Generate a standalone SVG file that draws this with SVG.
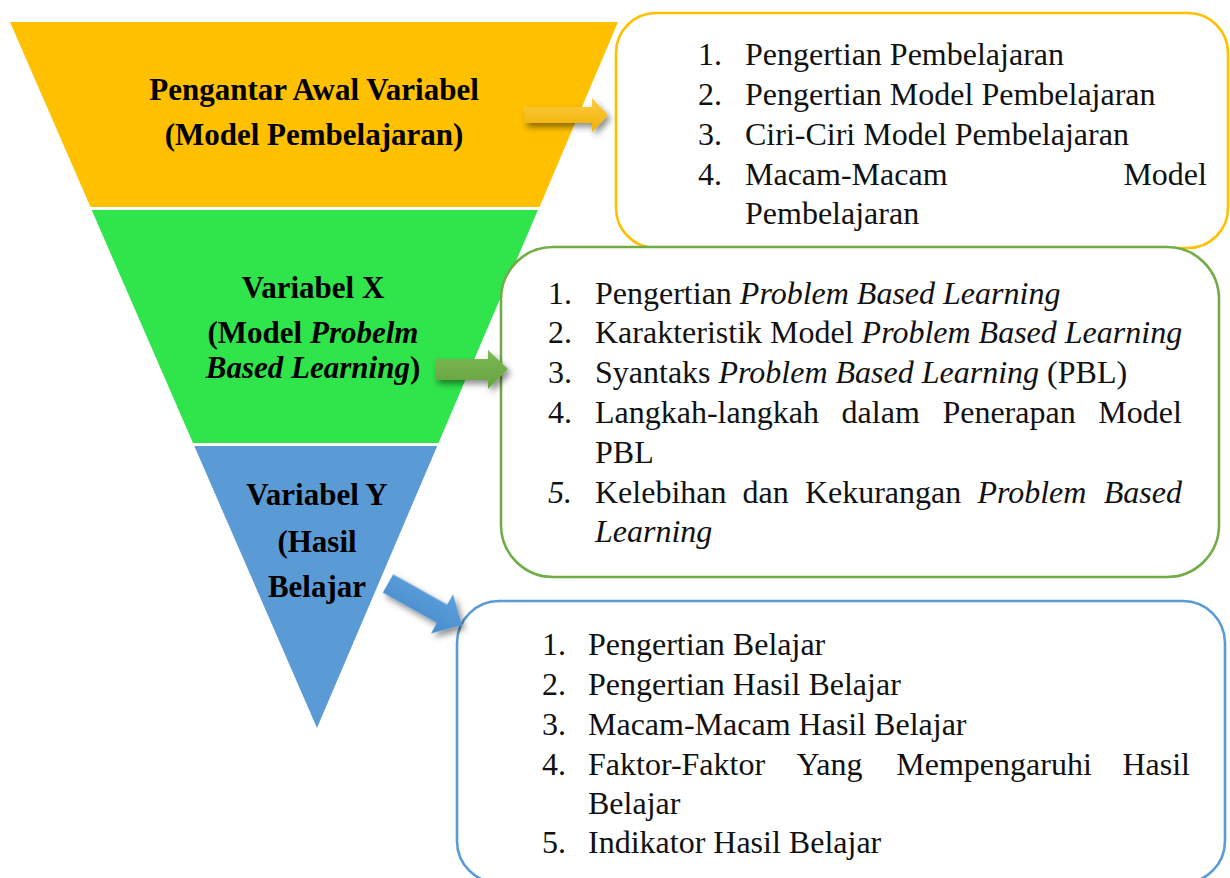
<svg xmlns="http://www.w3.org/2000/svg" width="1230" height="878" viewBox="0 0 1230 878">
<style>
.lbl{font-family:"Liberation Serif","Times New Roman",serif;font-weight:bold;font-size:31px;fill:#000;text-anchor:middle}
.li{font-family:"Liberation Serif","Times New Roman",serif;font-size:32px;fill:#111}
.it{font-style:italic}
.box{fill:#fff;stroke-width:2.6}
</style>
<defs>
<filter id="sh" x="-30%" y="-30%" width="160%" height="180%">
<feDropShadow dx="3" dy="4" stdDeviation="3" flood-color="#000" flood-opacity="0.45"/>
</filter>
<linearGradient id="gy" x1="0" y1="0" x2="0" y2="1">
<stop offset="0" stop-color="#FFCB45"/><stop offset="1" stop-color="#EDB100"/>
</linearGradient>
<linearGradient id="gg" x1="0" y1="0" x2="0" y2="1">
<stop offset="0" stop-color="#7DBB55"/><stop offset="1" stop-color="#66A23F"/>
</linearGradient>
<linearGradient id="gb" x1="0" y1="0" x2="0" y2="1">
<stop offset="0" stop-color="#5DA0DD"/><stop offset="1" stop-color="#4A8CCB"/>
</linearGradient>
</defs>

<g id="band-yellow">
<polygon points="10,22 618,22 539.5,207 90.5,207" fill="#FFC000"/>
<text class="lbl" x="314" y="100">Pengantar Awal Variabel</text>
<text class="lbl" x="314" y="145">(Model Pembelajaran)</text>
</g>
<g id="band-green">
<polygon points="91.7,210 537.9,210 438.5,443 193,443" fill="#2FE54B"/>
<text class="lbl" x="313" y="298">Variabel X</text>
<text class="lbl" x="313" y="343">(Model <tspan class="it">Probelm</tspan></text>
<text class="lbl" x="313" y="378"><tspan class="it">Based Learning</tspan>)</text>
</g>
<g id="band-blue">
<polygon points="194.3,446 437.2,446 317,728" fill="#5B9BD5"/>
<text class="lbl" x="317" y="505">Variabel Y</text>
<text class="lbl" x="317" y="552">(Hasil</text>
<text class="lbl" x="317" y="597">Belajar</text>
</g>

<g id="box-yellow">
<rect class="box" x="616" y="13" width="612" height="235" rx="40" stroke="#FFC000"/>
<text class="li" y="65"><tspan x="698">1.</tspan><tspan x="745">Pengertian Pembelajaran</tspan></text>
<text class="li" y="105"><tspan x="698">2.</tspan><tspan x="745">Pengertian Model Pembelajaran</tspan></text>
<text class="li" y="145"><tspan x="698">3.</tspan><tspan x="745">Ciri-Ciri Model Pembelajaran</tspan></text>
<text class="li" y="185"><tspan x="698">4.</tspan><tspan x="745">Macam-Macam</tspan><tspan x="1123.4">Model</tspan></text>
<text class="li" y="224"><tspan x="745">Pembelajaran</tspan></text>
</g>

<g id="box-green">
<rect class="box" x="501" y="247" width="718" height="330" rx="52" stroke="#70AD47"/>
<text class="li" y="304"><tspan x="548">1.</tspan><tspan x="595">Pengertian </tspan><tspan class="it">Problem Based Learning</tspan></text>
<text class="li" y="343"><tspan x="548">2.</tspan><tspan x="595">Karakteristik Model </tspan><tspan class="it">Problem Based Learning</tspan></text>
<text class="li" y="383"><tspan x="548">3.</tspan><tspan x="595">Syantaks </tspan><tspan class="it">Problem Based Learning</tspan><tspan> (PBL)</tspan></text>
<text class="li" y="423"><tspan x="548">4.</tspan><tspan x="595">Langkah-langkah</tspan><tspan x="841.6">dalam</tspan><tspan x="942.4">Penerapan</tspan><tspan x="1098.3">Model</tspan></text>
<text class="li" y="463"><tspan x="595">PBL</tspan></text>
<text class="li" y="503"><tspan x="548" class="it">5.</tspan><tspan x="595">Kelebihan</tspan><tspan x="742.6">dan</tspan><tspan x="804.9">Kekurangan</tspan><tspan x="977.4" class="it">Problem</tspan><tspan x="1103.7" class="it">Based</tspan></text>
<text class="li it" y="542"><tspan x="595">Learning</tspan></text>
</g>

<g id="box-blue">
<rect class="box" x="457" y="601" width="768" height="282" rx="42" stroke="#5B9BD5" stroke-width="3"/>
<text class="li" y="655"><tspan x="542">1.</tspan><tspan x="588">Pengertian Belajar</tspan></text>
<text class="li" y="695"><tspan x="542">2.</tspan><tspan x="588">Pengertian Hasil Belajar</tspan></text>
<text class="li" y="735"><tspan x="542">3.</tspan><tspan x="588">Macam-Macam Hasil Belajar</tspan></text>
<text class="li" y="775"><tspan x="542">4.</tspan><tspan x="588">Faktor-Faktor</tspan><tspan x="796.4">Yang</tspan><tspan x="896.3">Mempengaruhi</tspan><tspan x="1122.4">Hasil</tspan></text>
<text class="li" y="814"><tspan x="588">Belajar</tspan></text>
<text class="li" y="853"><tspan x="542">5.</tspan><tspan x="588">Indikator Hasil Belajar</tspan></text>
</g>

<g id="connectors" filter="url(#sh)">
<polygon points="524,107 592,107 592,98 608,115 592,132 592,123 524,123" fill="url(#gy)"/>
<polygon points="435,359 488,359 488,350 508,369 488,389 488,380 435,380" fill="url(#gg)"/>
<polygon transform="translate(388,583.5) rotate(29.3)" points="0,-10.5 62,-10.5 62,-22.5 85,0 62,22.5 62,10.5 0,10.5" fill="url(#gb)"/>
</g>
</svg>
